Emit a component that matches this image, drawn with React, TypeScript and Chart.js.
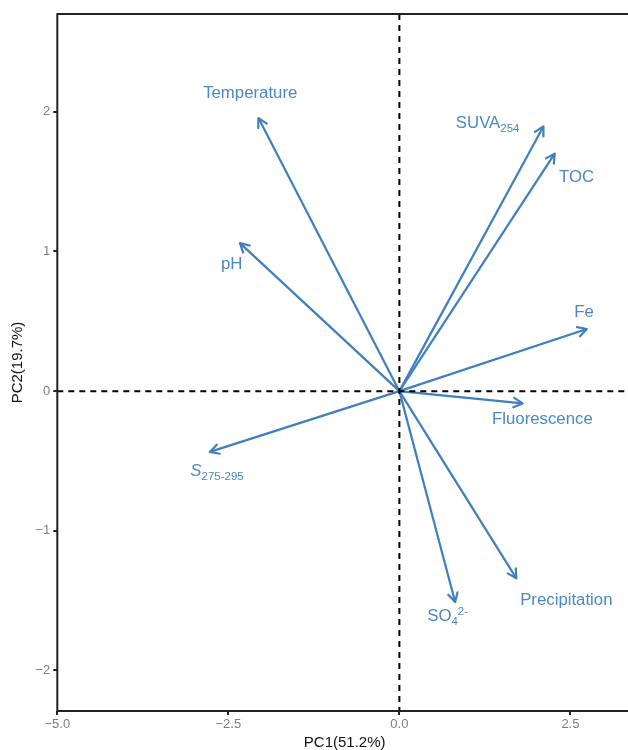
import React, { useEffect, useRef } from 'react';
import { Chart, registerables } from 'chart.js';
Chart.register(...registerables);

// PCA loadings (arrow tips)
const variables = ['Temperature', 'SUVA254', 'TOC', 'pH', 'Fe', 'Fluorescence', 'S275-295', 'SO42-', 'Precipitation'];
const pc1 = [-2.06, 2.105, 2.27, -2.33, 2.74, 1.80, -2.77, 0.815, 1.71];
const pc2 = [1.955, 1.895, 1.70, 1.06, 0.445, -0.088, -0.435, -1.51, -1.34];
// label anchor points (data units)
const labelPc1 = [-2.18, 1.29, 2.59, -2.45, 2.70, 2.09, -2.665, 0.705, 2.44];
const labelPc2 = [2.145, 1.93, 1.54, 0.92, 0.576, -0.194, -0.566, -1.605, -1.49];
const xTicks = [-5, -2.5, 0, 2.5];
const yTicks = [-2, -1, 0, 1, 2];
const xTitle = 'PC1(51.2%)';
const yTitle = 'PC2(19.7%)';

const FONT = '"Liberation Sans", Arial, Helvetica, sans-serif';
const ARROW = '#3f7fbd';
const TEXT = '#4a88c5';

type Seg = { t: string; sub?: boolean; sup?: boolean; italic?: boolean };
const richLabels: Record<string, Seg[]> = {
  SUVA254: [{ t: 'SUVA' }, { t: '254', sub: true }],
  'S275-295': [{ t: 'S', italic: true }, { t: '275-295', sub: true }],
  'SO42-': [{ t: 'SO' }, { t: '4', sub: true }, { t: '2-', sup: true }],
};

const minus = (s: string) => s.replace('-', '\u2212');

export default function App() {
  const ref = useRef<HTMLCanvasElement>(null);
  useEffect(() => {
    const overlay = {
      id: 'overlay',
      afterDatasetsDraw(chart: any) {
        const { ctx, chartArea: a, scales } = chart;
        const xs = scales.x, ys = scales.y;
        const ox = xs.getPixelForValue(0), oy = ys.getPixelForValue(0);
        ctx.save();
        // dashed reference lines
        ctx.strokeStyle = '#000';
        ctx.lineWidth = 2;
        ctx.setLineDash([6, 5]);
        ctx.beginPath();
        ctx.moveTo(ox, a.top); ctx.lineTo(ox, a.bottom);
        ctx.moveTo(a.left, oy); ctx.lineTo(a.right, oy);
        ctx.stroke();
        ctx.setLineDash([]);
        // arrowheads
        ctx.strokeStyle = ARROW;
        ctx.lineWidth = 2.2;
        ctx.lineCap = 'round';
        ctx.lineJoin = 'round';
        for (let i = 0; i < variables.length; i++) {
          const px = xs.getPixelForValue(pc1[i]), py = ys.getPixelForValue(pc2[i]);
          const ang = Math.atan2(py - oy, px - ox);
          const L = 10, h = 0.5;
          ctx.beginPath();
          ctx.moveTo(px - L * Math.cos(ang - h), py - L * Math.sin(ang - h));
          ctx.lineTo(px, py);
          ctx.lineTo(px - L * Math.cos(ang + h), py - L * Math.sin(ang + h));
          ctx.stroke();
        }
        // labels
        ctx.fillStyle = TEXT;
        ctx.textBaseline = 'alphabetic';
        ctx.textAlign = 'left';
        const big = 16.8, small = 11.5;
        for (let i = 0; i < variables.length; i++) {
          const segs: Seg[] = richLabels[variables[i]] || [{ t: variables[i] }];
          const cx = xs.getPixelForValue(labelPc1[i]), cy = ys.getPixelForValue(labelPc2[i]);
          const fontOf = (s: Seg) => `${s.italic ? 'italic ' : ''}${s.sub || s.sup ? small : big}px ${FONT}`;
          let w = 0;
          for (const s of segs) { ctx.font = fontOf(s); w += ctx.measureText(s.t).width; }
          let x = cx - w / 2;
          const base = cy + 6;
          for (const s of segs) {
            ctx.font = fontOf(s);
            const dy = s.sub ? 4 : s.sup ? -6 : 0;
            ctx.fillText(s.t, x, base + dy);
            x += ctx.measureText(s.t).width;
          }
        }
        // frame
        ctx.strokeStyle = '#222';
        ctx.lineWidth = 2;
        ctx.strokeRect(a.left, a.top, a.right - a.left, a.bottom - a.top);
        ctx.restore();
      },
    };

    const chart = new Chart(ref.current as HTMLCanvasElement, {
      type: 'scatter',
      data: {
        datasets: variables.map((v, i) => ({
          label: v,
          data: [{ x: 0, y: 0 }, { x: pc1[i], y: pc2[i] }],
          showLine: true,
          borderColor: ARROW,
          backgroundColor: ARROW,
          borderWidth: 2.2,
          pointRadius: 0,
          pointHoverRadius: 0,
          fill: false,
        })),
      },
      options: {
        responsive: false,
        animation: false,
        events: [],
        layout: { padding: { top: 14, right: 18, bottom: 0, left: 0 } },
        plugins: { legend: { display: false }, tooltip: { enabled: false } },
        scales: {
          x: {
            type: 'linear',
            min: -5,
            max: 3.4,
            afterBuildTicks: (s: any) => { s.ticks = xTicks.map((v) => ({ value: v })); },
            afterFit: (s: any) => { s.height = 39; },
            grid: { drawOnChartArea: false, drawTicks: true, tickLength: 4, color: '#222', lineWidth: 2 },
            border: { display: false },
            ticks: {
              color: '#7d7d7d',
              font: { family: FONT, size: 13 },
              padding: 2,
              maxRotation: 0,
              autoSkip: false,
              callback: (v: any) => minus(Number(v).toFixed(1)),
            },
            title: { display: true, text: xTitle, color: '#111', font: { family: FONT, size: 15 }, padding: { top: 0, bottom: -2 } },
          },
          y: {
            type: 'linear',
            min: -2.29,
            max: 2.70,
            afterBuildTicks: (s: any) => { s.ticks = yTicks.map((v) => ({ value: v })); },
            afterFit: (s: any) => { s.width = 57.3; },
            grid: { drawOnChartArea: false, drawTicks: true, tickLength: 4, color: '#222', lineWidth: 2 },
            border: { display: false },
            ticks: {
              color: '#7d7d7d',
              font: { family: FONT, size: 13 },
              padding: 3,
              autoSkip: false,
              callback: (v: any) => minus(String(v)),
            },
            title: { display: true, text: yTitle, color: '#111', font: { family: FONT, size: 15 }, padding: { top: 9, bottom: 0 } },
          },
        },
      },
      plugins: [overlay],
    } as any);
    return () => chart.destroy();
  }, []);

  return (
    <div style={{ position: 'absolute', left: 0, top: 0, width: 628, height: 750, overflow: 'hidden', background: '#fff' }}>
      <canvas ref={ref} width={650} height={750} style={{ display: 'block' }} />
    </div>
  );
}
